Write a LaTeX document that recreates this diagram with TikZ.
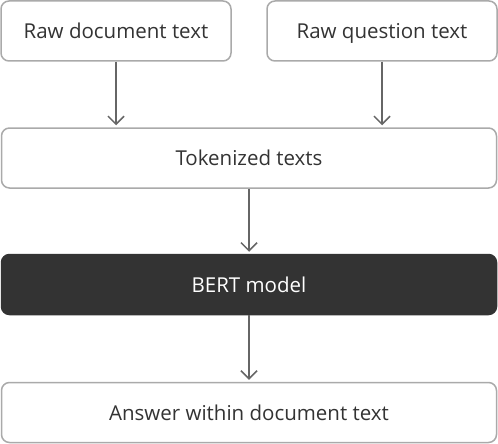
\documentclass[tikz,border=0pt]{standalone}
\usepackage{fontspec}
\setmainfont{Open Sans}
\usetikzlibrary{arrows.meta}
\definecolor{boxline}{HTML}{AAAAAA}
\definecolor{txt}{HTML}{333333}
\definecolor{dark}{HTML}{333333}
\definecolor{arr}{HTML}{666666}
\begin{document}
\begin{tikzpicture}[x=1pt,y=-1pt,
  base/.style={line width=1.5pt,rounded corners=8pt,inner sep=0pt,text height=15pt,text depth=0pt,font=\fontsize{20.5}{24}\selectfont},
  lightbox/.style={base,draw=boxline,fill=white,text=txt},
  darkbox/.style={base,draw=dark,fill=dark,text=white},
  conn/.style={draw=arr,line width=1.5pt,shorten >=2pt,-{Straight Barb[length=8pt,width=16pt,line width=1.5pt]}}]
\useasboundingbox (0,0) rectangle (498,444);
\node[lightbox,minimum width=230pt,minimum height=60pt] (doc) at (116,31) {Raw document text};
\node[lightbox,minimum width=230pt,minimum height=60pt] (q) at (382,31) {Raw question text};
\node[lightbox,minimum width=495pt,minimum height=60pt] (tok) at (249,158) {Tokenized texts};
\node[darkbox,minimum width=495pt,minimum height=60pt] (bert) at (249,284.5) {BERT model};
\node[lightbox,minimum width=495pt,minimum height=60pt] (ans) at (249,412.5) {Answer within document text};
\draw[conn] (doc.south) -- (doc.south |- tok.north);
\draw[conn] (q.south) -- (q.south |- tok.north);
\draw[conn] (tok.south) -- (bert.north);
\draw[conn] (bert.south) -- (ans.north);
\end{tikzpicture}
\end{document}
